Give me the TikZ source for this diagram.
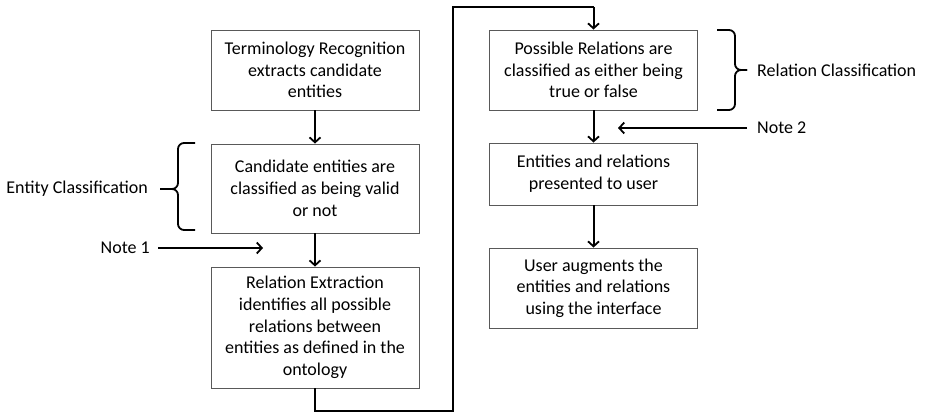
\documentclass[tikz,border=0pt]{standalone}
\usepackage{fontspec}
\setmainfont{Carlito}
\usetikzlibrary{arrows.meta}
\begin{document}
\begin{tikzpicture}[x=1pt,y=-1pt,
  box/.style={draw=black!65, line width=0.9pt, fill=white, align=center, inner sep=2pt,
    font=\fontsize{18}{21.7}\selectfont, minimum width=208pt},
  arr/.style={line width=2pt, -{Straight Barb[length=5pt,width=11pt,line width=1.8pt]}},
  conn/.style={line width=2pt},
  lbl/.style={font=\fontsize{18}{22}\selectfont, inner sep=0pt},
  brc/.style={line width=1.8pt, rounded corners=6pt}]
\useasboundingbox (0,0) rectangle (927,414);
\node[box, minimum height=80pt] (b1) at (315,70) {Terminology Recognition\\extracts candidate\\entities};
\node[box, minimum height=89pt] (b2) at (315,188.5) {Candidate entities are\\classified as being valid\\or not};
\node[box, minimum height=121pt] (b3) at (315,327.5) {Relation Extraction\\identifies all possible\\relations between\\entities as defined in the\\ontology};
\node[box, minimum height=80pt] (b4) at (593.5,70) {Possible Relations are\\classified as either being\\true or false};
\node[box, minimum height=62pt] (b5) at (593.5,174) {Entities and relations\\presented to user};
\node[box, minimum height=80pt] (b6) at (593.5,288) {User augments the\\entities and relations\\using the interface};

\draw[arr] (b1.south) -- (b2.north);
\draw[arr] (b2.south) -- (b3.north);
\draw[arr] (b4.south) -- (b5.north);
\draw[arr] (b5.south) -- (b6.north);

\coordinate (c1) at (315,411);
\coordinate (c2) at (453,411);
\coordinate (c3) at (453,7);
\coordinate (c4) at (593.5,7);
\draw[conn] (b3.south) -- (c1) -- (c2) -- (c3) -- (c4);
\draw[arr] (c4) -- (b4.north);

% Entity classification
\node[lbl, anchor=east] (ec) at (148,189) {Entity Classification};
\coordinate (el) at (160,189);
\draw[brc] (195,143) -- (178,143) -- (178,189) -- (el);
\draw[brc] (el) -- (178,189) -- (178,230) -- (195,230);

% Note 1
\node[lbl, anchor=east] (n1) at (150,248) {Note 1};
\coordinate (n1e) at (263,248);
\draw[arr] (158,248) -- (n1e);

% Relation classification
\node[lbl, anchor=west] (rc) at (757,70) {Relation Classification};
\coordinate (er) at (747,70);
\draw[brc] (717,30) -- (735,30) -- (735,70) -- (er);
\draw[brc] (er) -- (735,70) -- (735,110) -- (717,110);

% Note 2
\node[lbl, anchor=west] (n2) at (757,128) {Note 2};
\coordinate (n2e) at (618,128);
\draw[arr] (747,128) -- (n2e);
\end{tikzpicture}
\end{document}
